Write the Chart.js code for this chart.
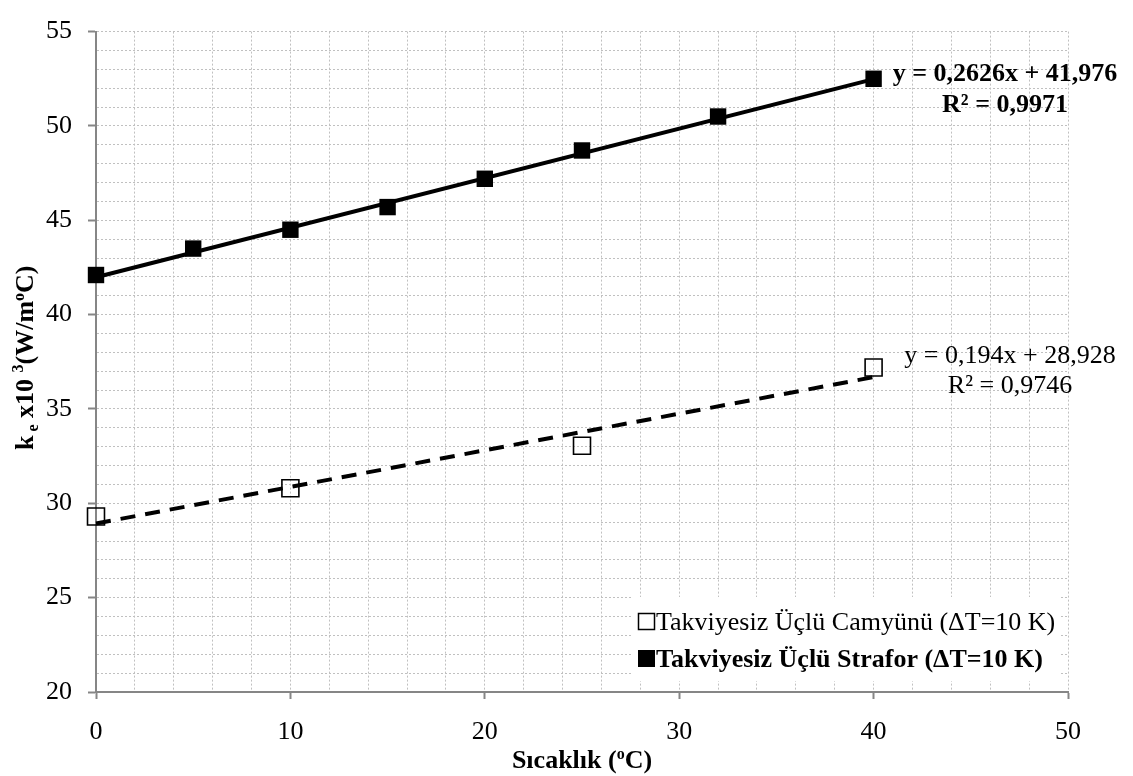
<!DOCTYPE html>
<html>
<head>
<meta charset="utf-8">
<script src="https://cdn.jsdelivr.net/npm/chart.js@4"></script>
<style>
html,body{margin:0;padding:0;background:#fff;}
#wrap{width:1133px;height:776px;position:relative;}
</style>
</head>
<body>
<div id="wrap"><canvas id="c" width="1133" height="776"></canvas></div>
<script>
// ---- data ----
const straforX = [0, 5, 10, 15, 20, 25, 32, 40];
const straforY = [42.1, 43.5, 44.5, 45.7, 47.2, 48.7, 50.5, 52.5];
const camyunuX = [0, 10, 25, 40];
const camyunuY = [29.3, 30.8, 33.05, 37.2];
const straforTrendX = [0, 40];
const straforTrendY = [41.98, 52.48];
const camyunuTrendX = [0, 40];
const camyunuTrendY = [28.93, 36.69];
const straforEq = ['y = 0,2626x + 41,976', 'R² = 0,9971'];
const camyunuEq = ['y = 0,194x + 28,928', 'R² = 0,9746'];
const legendLabels = ['Takviyesiz Üçlü Camyünü (ΔT=10 K)', 'Takviyesiz Üçlü Strafor (ΔT=10 K)'];
const xTickLabels = [0, 10, 20, 30, 40, 50];
const yTickLabels = [20, 25, 30, 35, 40, 45, 50, 55];

const FONT = '"Liberation Serif", "Times New Roman", serif';
const pts = (xs, ys) => xs.map((x, i) => ({x: x, y: ys[i]}));

const overlay = {
  id: 'overlay',
  afterDraw(chart) {
    const ctx = chart.ctx;
    const xs = chart.scales.x, ys = chart.scales.y;
    ctx.save();
    ctx.fillStyle = '#000';
    ctx.textBaseline = 'alphabetic';
    ctx.textAlign = 'center';
    // equations
    ctx.font = 'bold 26px ' + FONT;
    ctx.fillText(straforEq[0], 1005, 81);
    ctx.fillText(straforEq[1], 1005, 112);
    ctx.font = '26px ' + FONT;
    ctx.fillText(camyunuEq[0], 1010, 363);
    ctx.fillText(camyunuEq[1], 1010, 393);

    // legend box
    const lx = 632, ly = 597, lw = 428, lh = 84;
    ctx.fillStyle = '#fff';
    ctx.fillRect(lx, ly, lw, lh);
    ctx.fillStyle = '#000';
    ctx.textAlign = 'left';
    ctx.strokeStyle = '#000';
    ctx.lineWidth = 1.5;
    ctx.strokeRect(638.5, 613.5, 16, 16);
    ctx.font = '26px ' + FONT;
    ctx.fillText(legendLabels[0], 656, 630);
    ctx.fillRect(638, 650, 17, 17);
    ctx.font = 'bold 26px ' + FONT;
    ctx.fillText(legendLabels[1], 656, 667);

    // x-axis title
    const t1 = 'Sıcaklık (', t2 = 'o', t3 = 'C)';
    ctx.font = 'bold 26px ' + FONT;
    const w1 = ctx.measureText(t1).width;
    const w3 = ctx.measureText(t3).width;
    ctx.font = 'bold 16px ' + FONT;
    const w2 = ctx.measureText(t2).width;
    const total = w1 + w2 + w3;
    let sx = (xs.left + xs.right) / 2 - total / 2;
    const by = 768;
    ctx.font = 'bold 26px ' + FONT;
    ctx.fillText(t1, sx, by); sx += w1;
    ctx.font = 'bold 16px ' + FONT;
    ctx.fillText(t2, sx, by - 9); sx += w2;
    ctx.font = 'bold 26px ' + FONT;
    ctx.fillText(t3, sx, by);

    // y-axis title (rotated)
    const parts = [
      {t: 'k', s: 26, dy: 0},
      {t: ' e', s: 16, dy: 5},
      {t: ' x10 ', s: 26, dy: 0},
      {t: '3', s: 16, dy: -10},
      {t: '(W/m', s: 26, dy: 0},
      {t: 'o', s: 16, dy: -9},
      {t: 'C)', s: 26, dy: 0}
    ];
    let tw = 0;
    parts.forEach(p => { ctx.font = 'bold ' + p.s + 'px ' + FONT; p.w = ctx.measureText(p.t).width; tw += p.w; });
    ctx.translate(33, (ys.top + ys.bottom) / 2 - 4);
    ctx.rotate(-Math.PI / 2);
    let px = -tw / 2;
    parts.forEach(p => {
      ctx.font = 'bold ' + p.s + 'px ' + FONT;
      ctx.fillText(p.t, px, p.dy);
      px += p.w;
    });
    ctx.restore();
  }
};

const gridCommon = {
  color: '#c0c0c0',
  lineWidth: 1,
  tickBorderDash: [],
  tickWidth: 2
};

new Chart(document.getElementById('c'), {
  type: 'scatter',
  data: {
    datasets: [
      {
        label: 'strafor trend',
        type: 'line',
        data: pts(straforTrendX, straforTrendY),
        borderColor: '#000',
        borderWidth: 4,
        pointRadius: 0,
        fill: false,
        clip: false,
        order: 3
      },
      {
        label: 'camyunu trend',
        type: 'line',
        data: pts(camyunuTrendX, camyunuTrendY),
        borderColor: '#000',
        borderWidth: 4,
        borderDash: [15, 10],
        pointRadius: 0,
        fill: false,
        clip: false,
        order: 4
      },
      {
        label: legendLabels[0],
        data: pts(camyunuX, camyunuY),
        pointStyle: 'rect',
        pointRadius: 12,
        pointBackgroundColor: 'rgba(0,0,0,0)',
        pointBorderColor: '#000',
        pointBorderWidth: 1.6,
        clip: false,
        order: 2
      },
      {
        label: legendLabels[1],
        data: pts(straforX, straforY),
        pointStyle: 'rect',
        pointRadius: 11.6,
        pointBackgroundColor: '#000',
        pointBorderColor: '#000',
        pointBorderWidth: 0,
        clip: false,
        order: 1
      }
    ]
  },
  options: {
    responsive: false,
    animation: false,
    events: [],
    layout: {padding: {left: 0, top: 16, right: 65, bottom: 0}},
    plugins: {legend: {display: false}, tooltip: {enabled: false}},
    scales: {
      x: {
        type: 'linear',
        min: 0, max: 50,
        afterFit(s) { s.height = 84; },
        afterBuildTicks(s) { s.ticks = []; for (let v = 0; v <= 50; v += 2) s.ticks.push({value: v}); },
        ticks: {
          font: {family: FONT, size: 26},
          color: '#000',
          padding: 18,
          maxRotation: 0,
          autoSkip: false,
          callback: v => (xTickLabels.includes(v) ? String(v) : '')
        },
        grid: Object.assign({}, gridCommon, {
          tickLength: 7,
          tickColor: c => (c.tick && c.tick.value % 10 === 0 ? '#868686' : 'rgba(0,0,0,0)')
        }),
        border: {color: '#868686', width: 2, dash: [2, 2]}
      },
      y: {
        type: 'linear',
        min: 20, max: 55,
        afterFit(s) { s.width = 96; },
        afterBuildTicks(s) { s.ticks = []; for (let v = 20; v <= 55; v += 1) s.ticks.push({value: v}); },
        ticks: {
          font: {family: FONT, size: 26},
          color: '#000',
          padding: 16,
          autoSkip: false,
          callback: v => (yTickLabels.includes(v) ? String(v) : '')
        },
        grid: Object.assign({}, gridCommon, {
          tickLength: 8,
          tickColor: c => (c.tick && c.tick.value % 5 === 0 ? '#868686' : 'rgba(0,0,0,0)')
        }),
        border: {color: '#868686', width: 2, dash: [2, 2]}
      }
    }
  },
  plugins: [overlay]
});
</script>
</body>
</html>
